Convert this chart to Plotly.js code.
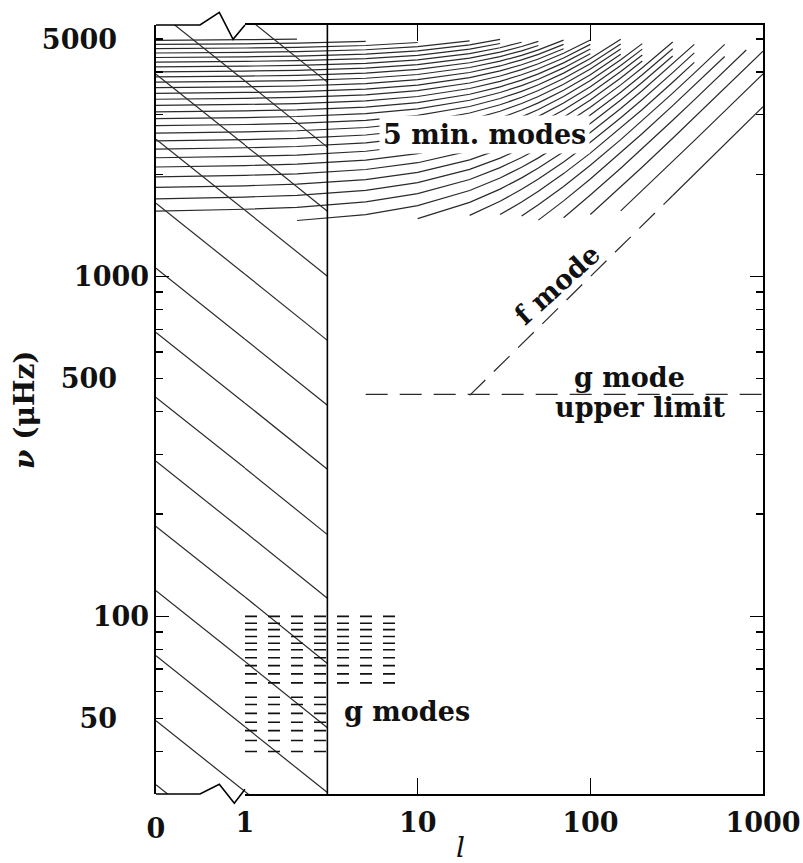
<!DOCTYPE html>
<html><head><meta charset="utf-8">
<script src="https://cdn.plot.ly/plotly-3.0.1.min.js"></script>
<style>body{margin:0;background:#fff}#chart{width:803px;height:863px}</style>
</head><body><div id="chart"></div>
<script>
// degrees l at which the p-mode ridge frequencies are tabulated
const ridgeDegrees = [0,1,2,5,10,20,30,40,50,70,100,150,200,300,400,600,800,1000];
// index in ridgeDegrees where each ridge starts (n = 35 ... 1, then f mode)
const ridgeStart = [0,0,0,0,0,0,0,0,0,0,0,0,0,0,0,0,0,0,0,0,0,0,0,0,0,0, 2,4,5,6,7,8,9,10,11, 13];
// ridge frequencies (muHz)
const ridgeNu = [
  [4957,4978,4998],
  [4821,4842,4862,4922],
  [4685,4706,4726,4786,4885],
  [4549,4570,4590,4650,4749,4941],
  [4413,4434,4454,4514,4613,4805,4989],
  [4277,4298,4318,4378,4477,4668,4852],
  [4141,4162,4182,4242,4341,4532,4715,4892],
  [4005,4026,4046,4106,4205,4396,4578,4754,4924],
  [3869,3890,3910,3970,4069,4259,4441,4616,4785],
  [3733,3754,3774,3834,3933,4123,4304,4479,4646,4965],
  [3597,3618,3638,3698,3797,3986,4167,4341,4507,4823],
  [3461,3482,3502,3562,3661,3850,4030,4202,4368,4682],
  [3325,3346,3366,3426,3525,3713,3893,4064,4229,4540,4971],
  [3189,3210,3230,3290,3388,3576,3755,3926,4089,4398,4824],
  [3053,3074,3094,3154,3252,3440,3618,3787,3949,4255,4677],
  [2917,2938,2958,3018,3116,3303,3480,3648,3809,4112,4529],
  [2781,2802,2822,2882,2980,3166,3342,3509,3669,3969,4380,4991],
  [2645,2666,2686,2746,2844,3029,3204,3370,3528,3825,4231,4832],
  [2509,2530,2550,2610,2708,2892,3066,3231,3387,3680,4080,4671],
  [2373,2394,2414,2474,2571,2755,2928,3091,3245,3534,3928,4509],
  [2237,2258,2278,2338,2435,2618,2789,2950,3103,3388,3776,4345,4848],
  [2101,2122,2142,2202,2299,2481,2651,2810,2961,3241,3622,4179,4671],
  [1965,1986,2006,2066,2163,2344,2511,2669,2817,3093,3466,4011,4490],
  [1829,1850,1870,1930,2026,2206,2372,2527,2673,2944,3309,3840,4307],
  [1693,1714,1734,1794,1890,2068,2232,2385,2528,2793,3149,3666,4119,4901],
  [1557,1578,1598,1658,1754,1930,2092,2242,2382,2641,2988,3489,3928,4682],
  [1462,1522,1617,1792,1951,2098,2235,2487,2823,3308,3731,4458],
  [1481,1653,1809,1952,2086,2331,2656,3123,3529,4225,4822],
  [1514,1666,1806,1936,2172,2484,2932,3320,3984,4552],
  [1522,1657,1782,2009,2308,2734,3103,3732,4269],
  [1507,1626,1842,2126,2529,2876,3467,3971,4824],
  [1466,1670,1936,2313,2636,3186,3654,4444],
  [1490,1737,2084,2380,2884,3312,4033,4644],
  [1523,1836,2102,2554,2936,3581,4126,4607],
  [1561,1792,2182,2512,3068,3537,3951],
  [1732,2000,2449,2828,3162]
];
// f mode extrapolation (dashed)
const fModeL = [20, 300];
const fModeNu = [447, 1732];
// g mode upper limit (dashed)
const gLimitL = [5, 1000];
const gLimitNu = [450, 450];
// g modes: frequencies of dashed rows and the degree where each row ends
const gModeNu = [100,95.4,91.4,87.2,83.3,79.7,75.5,71.6,67.7,63.7,57.8,55.0,51.8,48.8,46.1,43.1,40.0];
const gModeEndL = [7.4,7.4,7.4,7.4,7.4,7.4,7.4,7.4,7.4,7.4,3,3,3,3,3,3,3];
const gModeStartL = 1;
// hatching of the low-degree region l <= 3
const hatchDegrees = [0, 1, 3];
const hatchNuAt0 = [9459,6086,3943,2537,1644,1058,685,441,286,184,119,76.6,49.3,31.95];
const hatchNuAt1 = [5845,3761,2437,1568,1016,654,424,273,177,114,73.6,47.3,30.5,19.7];
const hatchNuAt3 = [3735,2404,1557,1002,649,418,271,174,113,72.6,47.0,30.3,19.5,12.6];
const lowDegreeLimit = 3;
// axis extents and ticks
const nuRange = [30, 5500];
const degreeRange = [1, 1000];
const yLabelVals = [50, 500, 5000];
const yLongVals = [100, 1000];
const yMinorVals = [40,60,70,80,90,200,300,400,600,700,800,900,2000,3000,4000];
const yRightMinor = [40,50,60,70,80,90,200,300,400,500,600,700,800,900,2000,3000,4000,5000];
const xTickVals = [1, 10, 100, 1000];

const lineCol = '#2a2a2a';
const leftX=[], leftY=[], rightX=[], rightY=[];
ridgeNu.forEach((nus, r) => {
  const s = ridgeStart[r];
  const ls = nus.map((_, i) => ridgeDegrees[s + i]);
  let hasLeft = false;
  ls.forEach((l, i) => { if (l <= 1) { leftX.push(l); leftY.push(nus[i]); hasLeft = true; } });
  if (hasLeft) { leftX.push(null); leftY.push(null); }
  ls.forEach((l, i) => { if (l >= 1) { rightX.push(l); rightY.push(nus[i]); } });
  rightX.push(null); rightY.push(null);
});
const hlX=[], hlY=[], hrX=[], hrY=[];
hatchNuAt0.forEach((v, i) => {
  hlX.push(hatchDegrees[0], hatchDegrees[1], null); hlY.push(v, hatchNuAt1[i], null);
  hrX.push(hatchDegrees[1], hatchDegrees[2], null); hrY.push(hatchNuAt1[i], hatchNuAt3[i], null);
});
const gX=[], gY=[];
gModeNu.forEach((v, i) => { gX.push(gModeStartL, gModeEndL[i], null); gY.push(v, v, null); });

const common = {mode:'lines', hoverinfo:'skip', showlegend:false};
const traces = [
  Object.assign({x:hlX, y:hlY, xaxis:'x', yaxis:'y', line:{color:lineCol, width:1.2}}, common),
  Object.assign({x:hrX, y:hrY, xaxis:'x2', yaxis:'y', line:{color:lineCol, width:1.2}}, common),
  Object.assign({x:leftX, y:leftY, xaxis:'x', yaxis:'y', line:{color:lineCol, width:1.2}}, common),
  Object.assign({x:rightX, y:rightY, xaxis:'x2', yaxis:'y', line:{color:lineCol, width:1.2}}, common),
  Object.assign({x:[lowDegreeLimit, lowDegreeLimit], y:nuRange, xaxis:'x2', yaxis:'y', line:{color:'#000', width:1.6}}, common),
  Object.assign({x:fModeL, y:fModeNu, xaxis:'x2', yaxis:'y', line:{color:lineCol, width:1.2, dash:'22px,12px'}}, common),
  Object.assign({x:gLimitL, y:gLimitNu, xaxis:'x2', yaxis:'y', line:{color:lineCol, width:1.3, dash:'22px,12px'}}, common),
  Object.assign({x:gX, y:gY, xaxis:'x2', yaxis:'y', line:{color:'#111', width:1.6, dash:'12px,11px'}}, common),
  Object.assign({x:[], y:[], xaxis:'x', yaxis:'y3'}, common),
  Object.assign({x:[], y:[], xaxis:'x2', yaxis:'y2'}, common)
];

const tf = {family:'DejaVu Serif', size:27, color:'#111', weight:'bold'};
const yr = [Math.log10(nuRange[0]), Math.log10(nuRange[1])];
const d1 = 89/607;
const baseY = {type:'log', range:yr, showgrid:false, zeroline:false, fixedrange:true};
function px(x){ return (x-156)/607; }
function py(y){ return (794-y)/769; }
function note(x, y, text, extra){
  return Object.assign({xref:'paper', yref:'paper', x:px(x), y:py(y), text:text, showarrow:false,
    xanchor:'center', yanchor:'middle', font:{family:'DejaVu Serif', size:27, color:'#111', weight:'bold'}}, extra||{});
}
const layout = {
  width:803, height:863, paper_bgcolor:'#fff', plot_bgcolor:'rgba(0,0,0,0)',
  margin:{l:156, r:40, t:25, b:69}, showlegend:false,
  xaxis:{domain:[0,d1], range:[0,1], anchor:'y', tickvals:[0], ticktext:['0'], ticks:'', showline:false,
         showgrid:false, zeroline:false, tickfont:tf, ticklabelstandoff:16},
  xaxis2:{domain:[d1,1], type:'log', range:[Math.log10(degreeRange[0]), Math.log10(degreeRange[1])], anchor:'y',
          tickvals:xTickVals, ticktext:xTickVals.map(String), ticks:'inside', ticklen:16, tickwidth:1.4, tickcolor:'#000',
          showline:true, linecolor:'#000', linewidth:1.6, mirror:'ticks', showgrid:false, zeroline:false,
          tickfont:tf, ticklabelstandoff:4},
  yaxis:Object.assign({}, baseY, {anchor:'x', side:'left', showline:true, linecolor:'#000', linewidth:1.6,
          tickvals:yLabelVals, ticktext:yLabelVals.map(String), ticks:'inside', ticklen:7, tickwidth:1.3, tickcolor:'#000',
          tickfont:tf, ticklabelstandoff:32,
          minor:{tickmode:'array', tickvals:yMinorVals, ticks:'inside', ticklen:7, tickwidth:1.3, tickcolor:'#000'}}),
  yaxis3:Object.assign({}, baseY, {anchor:'x', side:'left', overlaying:'y', showline:false,
          tickvals:yLongVals, ticktext:yLongVals.map(String), ticks:'inside', ticklen:13, tickwidth:1.4, tickcolor:'#000',
          tickfont:tf, ticklabelstandoff:6}),
  yaxis2:Object.assign({}, baseY, {anchor:'x2', side:'right', overlaying:'y', showline:true, linecolor:'#000', linewidth:1.6,
          tickvals:yLongVals, showticklabels:false, ticks:'inside', ticklen:13, tickwidth:1.4, tickcolor:'#000',
          minor:{tickmode:'array', tickvals:yRightMinor, ticks:'inside', ticklen:7, tickwidth:1.3, tickcolor:'#000'}}),
  shapes:[
    {type:'path', xref:'paper', yref:'paper', path:'M 0 0 L 0.0725 0 L 0.1043 0.0126 L 0.129 -0.0121 L 0.1466 0.0061', line:{color:'#000', width:1.6}},
    {type:'path', xref:'paper', yref:'paper', path:'M 0 1 L 0.0725 1 L 0.1043 1.0165 L 0.127 0.9814 L 0.1466 1', line:{color:'#000', width:1.6}}
  ],
  annotations:[
    note(485, 134, '5 min. modes', {bgcolor:'#fff', borderpad:3}),
    note(557, 284, 'f mode', {textangle:-42}),
    note(629, 377, 'g mode'),
    note(640, 407, 'upper limit'),
    note(407, 711, 'g modes'),
    note(460, 847, '<i>l</i>', {font:{family:'DejaVu Serif', size:28, color:'#111'}}),
    note(24, 410, '<i>ν</i> (μHz)', {textangle:-90, font:{family:'DejaVu Serif', size:28, color:'#111', weight:'bold'}})
  ]
};
Plotly.newPlot('chart', traces, layout, {displayModeBar:false, staticPlot:true});
</script></body></html>
